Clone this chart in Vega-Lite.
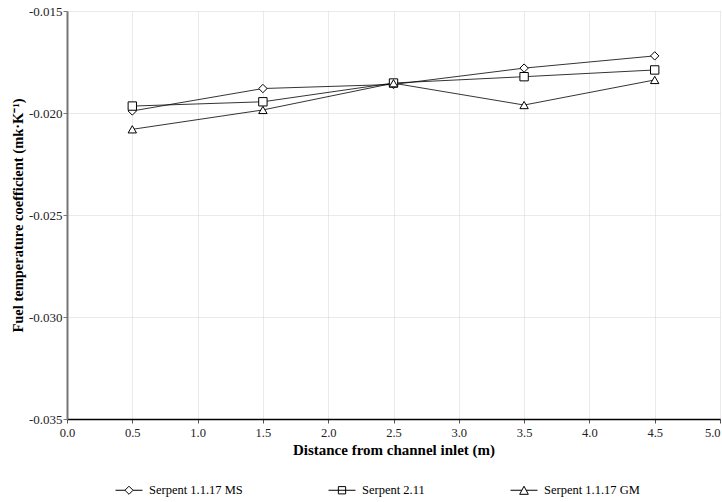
{
  "$schema": "https://vega.github.io/schema/vega-lite/v6.json",
  "width": 653,
  "height": 408,
  "autosize": {"type": "none"},
  "padding": {"left": 67, "top": 11, "right": 2, "bottom": 83},
  "background": "white",
  "config": {
    "font": "Liberation Serif",
    "view": {"stroke": null}
  },
  "data": {
    "values": [
      {"x": 0.5, "y": -0.0199, "series": "Serpent 1.1.17 MS"},
      {"x": 1.5, "y": -0.0188, "series": "Serpent 1.1.17 MS"},
      {"x": 2.5, "y": -0.0186, "series": "Serpent 1.1.17 MS"},
      {"x": 3.5, "y": -0.0178, "series": "Serpent 1.1.17 MS"},
      {"x": 4.5, "y": -0.0172, "series": "Serpent 1.1.17 MS"},
      {"x": 0.5, "y": -0.01966, "series": "Serpent 2.11"},
      {"x": 1.5, "y": -0.01945, "series": "Serpent 2.11"},
      {"x": 2.5, "y": -0.01853, "series": "Serpent 2.11"},
      {"x": 3.5, "y": -0.01822, "series": "Serpent 2.11"},
      {"x": 4.5, "y": -0.01789, "series": "Serpent 2.11"},
      {"x": 0.5, "y": -0.0208, "series": "Serpent 1.1.17 GM"},
      {"x": 1.5, "y": -0.01985, "series": "Serpent 1.1.17 GM"},
      {"x": 2.5, "y": -0.01854, "series": "Serpent 1.1.17 GM"},
      {"x": 3.5, "y": -0.01961, "series": "Serpent 1.1.17 GM"},
      {"x": 4.5, "y": -0.01838, "series": "Serpent 1.1.17 GM"}
    ]
  },
  "encoding": {
    "x": {
      "field": "x",
      "type": "quantitative",
      "scale": {"domain": [0, 5], "nice": false, "zero": false},
      "axis": {
        "title": "Distance from channel inlet (m)",
        "values": [0, 0.5, 1, 1.5, 2, 2.5, 3, 3.5, 4, 4.5, 5],
        "format": ".1f",
        "grid": true,
        "gridColor": "#d4d4d4",
        "gridDash": [1, 1],
        "gridWidth": 1,
        "domainColor": "black",
        "domainWidth": 1.5,
        "tickColor": "#555",
        "tickSize": 4,
        "labelPadding": 3,
        "labelFont": "Liberation Serif",
        "labelFontSize": 12.5,
        "labelColor": "#222",
        "labelFlush": false,
        "labelAlign": {"condition": {"test": "datum.value >= 5", "value": "right"}, "value": "center"},
        "titleFont": "Liberation Serif",
        "titleFontSize": 15,
        "titleFontWeight": "bold",
        "titleColor": "black",
        "titlePadding": 4
      }
    },
    "y": {
      "field": "y",
      "type": "quantitative",
      "scale": {"domain": [-0.035, -0.015], "nice": false, "zero": false},
      "axis": {
        "title": "Fuel temperature coefficient (mk·K⁻¹)",
        "values": [-0.035, -0.03, -0.025, -0.02, -0.015],
        "labelExpr": "replace(format(datum.value, '.3f'), '−', '-')",
        "grid": true,
        "gridColor": "#d4d4d4",
        "gridDash": [1, 1],
        "gridWidth": 1,
        "domainColor": "#777",
        "domainWidth": 2,
        "tickColor": "#777",
        "tickSize": 4,
        "labelPadding": 1,
        "labelFont": "Liberation Serif",
        "labelFontSize": 13,
        "labelColor": "#222",
        "labelFlush": false,
        "titleFont": "Liberation Serif",
        "titleFontSize": 14.5,
        "titleFontWeight": "bold",
        "titleColor": "black",
        "titlePadding": 3
      }
    }
  },
  "layer": [
    {
      "mark": {"type": "line", "color": "black", "strokeWidth": 0.8},
      "encoding": {"detail": {"field": "series"}}
    },
    {
      "mark": {"type": "point", "filled": true, "fill": "white", "stroke": "black", "strokeWidth": 1, "size": 70, "opacity": 1},
      "encoding": {
        "shape": {
          "field": "series",
          "type": "nominal",
          "scale": {
            "domain": ["Serpent 1.1.17 MS", "Serpent 2.11", "Serpent 1.1.17 GM"],
            "range": ["diamond", "square", "triangle-up"]
          },
          "legend": null
        }
      }
    },
    {
      "transform": [{"filter": "false"}],
      "mark": {"type": "point", "filled": true, "fill": "white", "stroke": "black", "strokeWidth": 1, "opacity": 1},
      "encoding": {
        "shape": {
          "field": "series",
          "type": "nominal",
          "scale": {
            "domain": ["Serpent 1.1.17 MS", "Serpent 2.11", "Serpent 1.1.17 GM"],
            "range": [
              "M-1,0L-0.3,0M0.3,0L1,0M-0.3,0L0,-0.3L0.3,0L0,0.3Z",
              "M-1,0L1,0M-0.27,-0.27L0.27,-0.27L0.27,0.27L-0.27,0.27Z",
              "M-1,0L-0.16,0M0.16,0L1,0M0,-0.3L0.32,0.3L-0.32,0.3Z"
            ]
          },
          "legend": {
            "title": null,
            "orient": "none",
            "legendX": 48,
            "legendY": 465,
            "direction": "horizontal",
            "columns": 3,
            "columnPadding": 83,
            "padding": 0,
            "symbolSize": 729,
            "symbolStrokeWidth": 1,
            "labelOffset": 6,
            "labelFont": "Liberation Serif",
            "labelFontSize": 12.5,
            "labelColor": "black",
            "labelLimit": 300,
            "encode": {
              "symbols": {
                "update": {
                  "fill": {"value": "white"},
                  "stroke": {"value": "black"},
                  "opacity": {"value": 1}
                }
              }
            }
          }
        }
      }
    }
  ],
  "resolve": {"scale": {"shape": "independent"}}
}
